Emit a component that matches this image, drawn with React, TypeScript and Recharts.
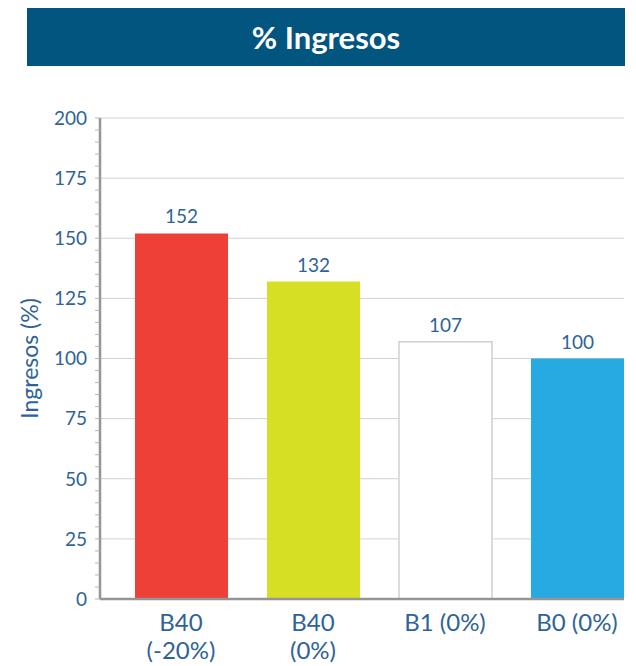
import React from 'react';
import { BarChart, Bar, XAxis, YAxis, CartesianGrid, LabelList, Cell } from 'recharts';

const categories = ['B40\n(-20%)', 'B40\n(0%)', 'B1 (0%)', 'B0 (0%)'];
const ingresos = [152, 132, 107, 100];
const barColors = ['#EE4036', '#D6DF23', '#FFFFFF', '#27AAE1'];
const barBorders = ['none', 'none', '#CFCFCF', 'none'];
const majorTicks = [0, 25, 50, 75, 100, 125, 150, 175, 200];
const minorTicks = Array.from({ length: 41 }, (_, i) => i * 5);

const data = categories.map((name, i) => ({ name, value: ingresos[i] }));

const TEXT = '#2F6398';
const AXIS = '#959595';
const FONT = 'Lato, "Open Sans", sans-serif';

const YTick = (props: any) => {
  const { x, y, payload } = props;
  if (payload.value % 25 !== 0) return null;
  return (
    <text x={x - 6} y={y} dy="0.36em" textAnchor="end" fill={TEXT} fontSize={19} fontFamily={FONT}>
      {payload.value}
    </text>
  );
};

const XTick = (props: any) => {
  const { x, y, payload } = props;
  const lines = String(payload.value).split('\n');
  return (
    <text x={x} y={y} textAnchor="middle" fill={TEXT} fontSize={24} fontFamily={FONT}>
      {lines.map((line, i) => (
        <tspan key={i} x={x} dy={i === 0 ? 24 : 28}>{line}</tspan>
      ))}
    </text>
  );
};

const YLabel = (props: any) => {
  const vb = props.viewBox;
  const cx = vb.x + 38;
  const cy = vb.y + vb.height / 2;
  return (
    <text x={cx} y={cy} transform={`rotate(-90 ${cx} ${cy})`} textAnchor="middle" fill={TEXT} fontSize={23} fontFamily={FONT}>
      Ingresos (%)
    </text>
  );
};

export default function App() {
  return (
    <div style={{ position: 'absolute', left: 0, top: 0, width: 636, height: 666, background: '#fff', overflow: 'hidden' }}>
      <div
        style={{
          position: 'absolute', left: 27, top: 8, width: 598, height: 58,
          background: '#02557F', color: '#fff', fontFamily: FONT, fontWeight: 700, fontSize: 31,
          display: 'flex', alignItems: 'center', justifyContent: 'center',
        }}
      >
        % Ingresos
      </div>
      <div style={{ position: 'absolute', left: 0, top: 0, width: 624, height: 666, overflow: 'hidden' }}>
        <BarChart width={660} height={666} data={data} margin={{ top: 118, right: 17, bottom: 0, left: 0 }} barSize={93}>
          <CartesianGrid vertical={false} stroke="#D2D2D2" horizontalValues={majorTicks} />
          <XAxis
            dataKey="name"
            interval={0}
            padding={{ left: 15, right: 0 }}
            tickLine={false}
            axisLine={{ stroke: AXIS, strokeWidth: 2.5 }}
            tick={<XTick />}
            height={67}
          />
          <YAxis
            width={100}
            domain={[0, 200]}
            ticks={minorTicks}
            interval={0}
            tickSize={5}
            tickLine={{ stroke: '#B5B5B5' }}
            axisLine={{ stroke: AXIS, strokeWidth: 2.5 }}
            tick={<YTick />}
            label={<YLabel />}
          />
          <Bar dataKey="value" isAnimationActive={false}>
            {data.map((d, i) => (
              <Cell key={d.name} fill={barColors[i]} stroke={barBorders[i]} strokeWidth={1.5} />
            ))}
            <LabelList dataKey="value" position="top" offset={10} fill={TEXT} fontSize={19} fontFamily={FONT} />
          </Bar>
        </BarChart>
      </div>
    </div>
  );
}
